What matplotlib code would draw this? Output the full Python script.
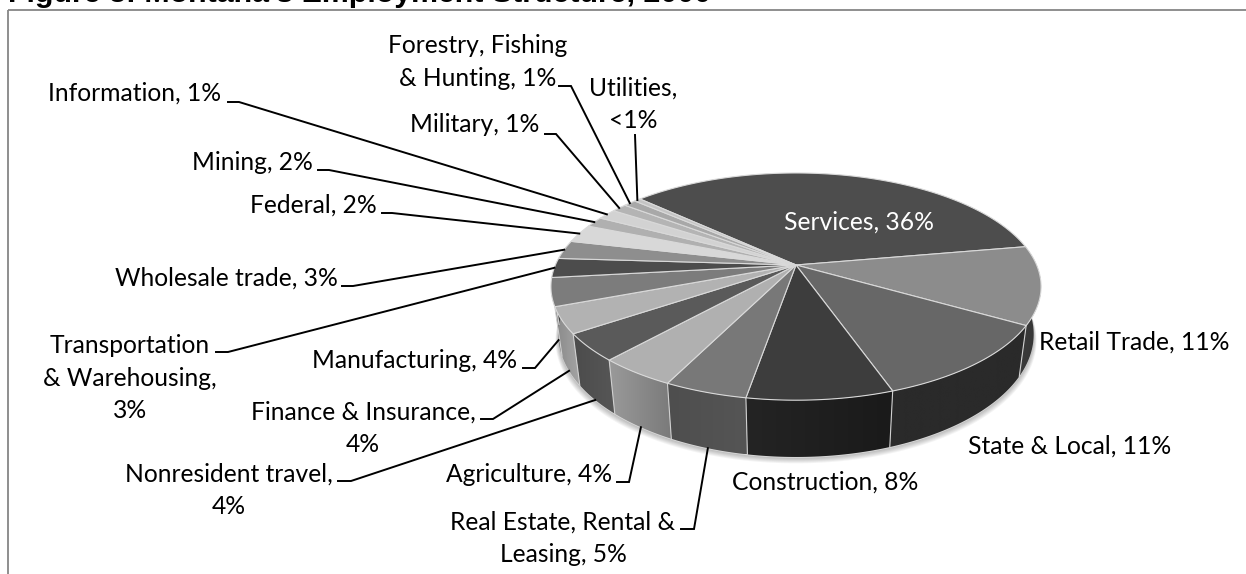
import numpy as np
import matplotlib
matplotlib.use("Agg")
import matplotlib.pyplot as plt
from matplotlib.patches import Polygon

# clockwise from the first slice
categories = ["Services", "Retail Trade", "State & Local", "Construction",
              "Real Estate, Rental &\nLeasing", "Agriculture", "Nonresident travel,\n",
              "Finance & Insurance,\n", "Manufacturing", "Transportation\n& Warehousing,\n",
              "Wholesale trade", "Federal", "Mining", "Information", "Military",
              "Forestry, Fishing\n& Hunting", "Utilities,\n"]
pct_labels = ["36%", "11%", "11%", "8%", "5%", "4%", "4%", "4%", "4%", "3%", "3%",
              "2%", "2%", "1%", "1%", "1%", "<1%"]
# shares
values = [35.3, 11.1, 11.3, 8.05, 4.6, 4.3, 3.9, 3.7, 4.0, 2.75, 2.64,
          2.6, 1.5, 1.5, 1.2, 1.0, 0.5]

top_colors = ["#4d4d4d", "#8c8c8c", "#676767", "#3d3d3d", "#787878", "#b0b0b0", "#5a5a5a",
              "#b2b2b2", "#7c7c7c", "#4c4c4c", "#8e8e8e", "#d8d8d8", "#b0b0b0", "#d2d2d2",
              "#b4b4b4", "#a8a8a8", "#c4c4c4"]
wall_left = ["#3a3a3a", "#3c3c3c", "#2a2a2a", "#242424", "#4e4e4e", "#9a9a9a", "#4c4c4c",
             "#8a8a8a", "#707070", "#444444", "#666666", "#999999", "#888888", "#999999",
             "#888888", "#808080", "#999999"]
wall_right = ["#3a3a3a", "#333333", "#2a2a2a", "#1a1a1a", "#555555", "#7a7a7a", "#565656",
              "#a4a4a4", "#707070", "#444444", "#666666", "#999999", "#888888", "#999999",
              "#888888", "#808080", "#999999"]

# center x, center y of first line, label text position
label_xy = [(859, 222), (1134, 342), (1070, 446), (825, 482), (563, 522), (529, 474),
            (229, 474), (363, 412), (415, 360), (130, 346), (226, 278), (313, 205),
            (252, 162), (135, 93), (475, 125), (478, 46), (633, 88)]
# leader: x where it starts, x of the elbow, y of the horizontal bit (None = no leader)
leaders = [None, None, None, None, (681, 694, 529), (617, 629, 482), (338, 351, 481),
           (481, 493, 419), (523, 535, 368), (216, 228, 352), (342, 353, 286),
           (382, 392, 213), (318, 329, 170), (228, 239, 102), (545, 556, 134),
           (559, 571, 86), (635, 635, 135)]

cx, cy = 796, 265
A, B, k = 240.6, 109.5, 0.19
start_angle = 137.1
wall_h = 46
wall_shrink = 0.97


def top_rim(theta):
    t = np.radians(theta)
    u, v = np.cos(t), np.sin(t)
    den = 1 + k * v
    return cx + A * u / den, cy - B * v / den


def bottom_rim(theta):
    t = np.radians(theta)
    den = 1 + k * np.sin(t)
    x, y = top_rim(theta)
    return cx + (x - cx) * wall_shrink, y + wall_h / den


fig = plt.figure(figsize=(12.46, 5.74), dpi=100)
ax = fig.add_axes([0, 0, 1, 1])
ax.axis("off")

# chart frame and the clipped title above it
ax.plot([8, 8], [574, 9.5], color="#868686", lw=1.3, solid_capstyle="butt")
ax.plot([8, 1246], [9.5, 9.5], color="#868686", lw=1.3, solid_capstyle="butt")
ax.text(8, 2.5, "Figure 8: Montana's Employment Structure, 2000", family="Liberation Sans",
        fontweight="bold", fontsize=21.9, ha="left", va="baseline", color="black", clip_on=False)

edges = start_angle - np.cumsum([0] + values) / sum(values) * 360

# soft shadow under the pie
base = np.linspace(0, -360, 361)
bx, by = bottom_rim(base)
for i in range(1, 7):
    ax.add_patch(Polygon(np.column_stack([cx + (bx - cx) * (1 + 0.002 * i), by + i * 0.9 + 1]),
                         closed=True, fc="black", ec="none", alpha=0.045, zorder=1))
ax.add_patch(Polygon(np.column_stack([bx, by + 0.9]), closed=True, fc="#d8d8d8", ec="none", zorder=1.5))

# side wall, one gradient per slice, clipped to the slice's wall
for i in range(len(values)):
    th = np.linspace(edges[i], edges[i + 1], 40)
    th = th[np.sin(np.radians(th)) < 0.2]
    if len(th) < 2:
        continue
    tx, ty = top_rim(th)
    qx, qy = bottom_rim(th)
    wall = np.column_stack([np.r_[tx, qx[::-1]], np.r_[ty, qy[::-1]]])
    grad = np.linspace(0, 1, 64).reshape(1, -1, 1)
    c0 = np.array(matplotlib.colors.to_rgb(wall_left[i])).reshape(1, 1, 3)
    c1 = np.array(matplotlib.colors.to_rgb(wall_right[i])).reshape(1, 1, 3)
    img = c0 * (1 - grad) + c1 * grad
    im = ax.imshow(img, extent=(wall[:, 0].min(), wall[:, 0].max(), wall[:, 1].max(), wall[:, 1].min()),
                   aspect="auto", interpolation="bilinear", zorder=2)
    im.set_clip_path(Polygon(wall, closed=True, transform=ax.transData))
    if np.sin(np.radians(edges[i + 1])) < 0.05:
        p0, p1 = top_rim(edges[i + 1]), bottom_rim(edges[i + 1])
        ax.plot([p0[0], p1[0]], [p0[1], p1[1]], color="#d0d0d0", lw=0.8, zorder=3)

ax.set_xlim(0, 1246)
ax.set_ylim(574, 0)

# top face
for i in range(len(values)):
    th = np.linspace(edges[i], edges[i + 1], max(4, int(values[i] * 12)))
    rx, ry = top_rim(th)
    pts = [(cx, cy)] + list(zip(rx, ry))
    ax.add_patch(Polygon(pts, closed=True, fc=top_colors[i], ec="#d9d9d9", lw=0.8, zorder=4,
                         joinstyle="round"))

# labels and leaders
for i, name in enumerate(categories):
    if name.endswith("\n"):
        txt = name + pct_labels[i]
    else:
        txt = name + ", " + pct_labels[i]
    col = "white" if i == 0 else "black"
    n_lines = txt.count("\n")
    x, y = label_xy[i]
    ax.text(x, y + n_lines * 16, txt, ha="center", va="center", family="Lato", fontsize=17.7,
            color=col, linespacing=1.5, zorder=6)
    if leaders[i] is None:
        continue
    mid = (edges[i] + edges[i + 1]) / 2
    if np.sin(np.radians(mid)) < -0.1:
        ex, ey = bottom_rim(mid)
    else:
        ex, ey = top_rim(mid)
    x0, x1, ly = leaders[i]
    ax.plot([x0, x1, ex], [ly, ly, ey], color="black", lw=1.4, solid_joinstyle="miter", zorder=5)

fig.savefig("out.png", dpi=100)
